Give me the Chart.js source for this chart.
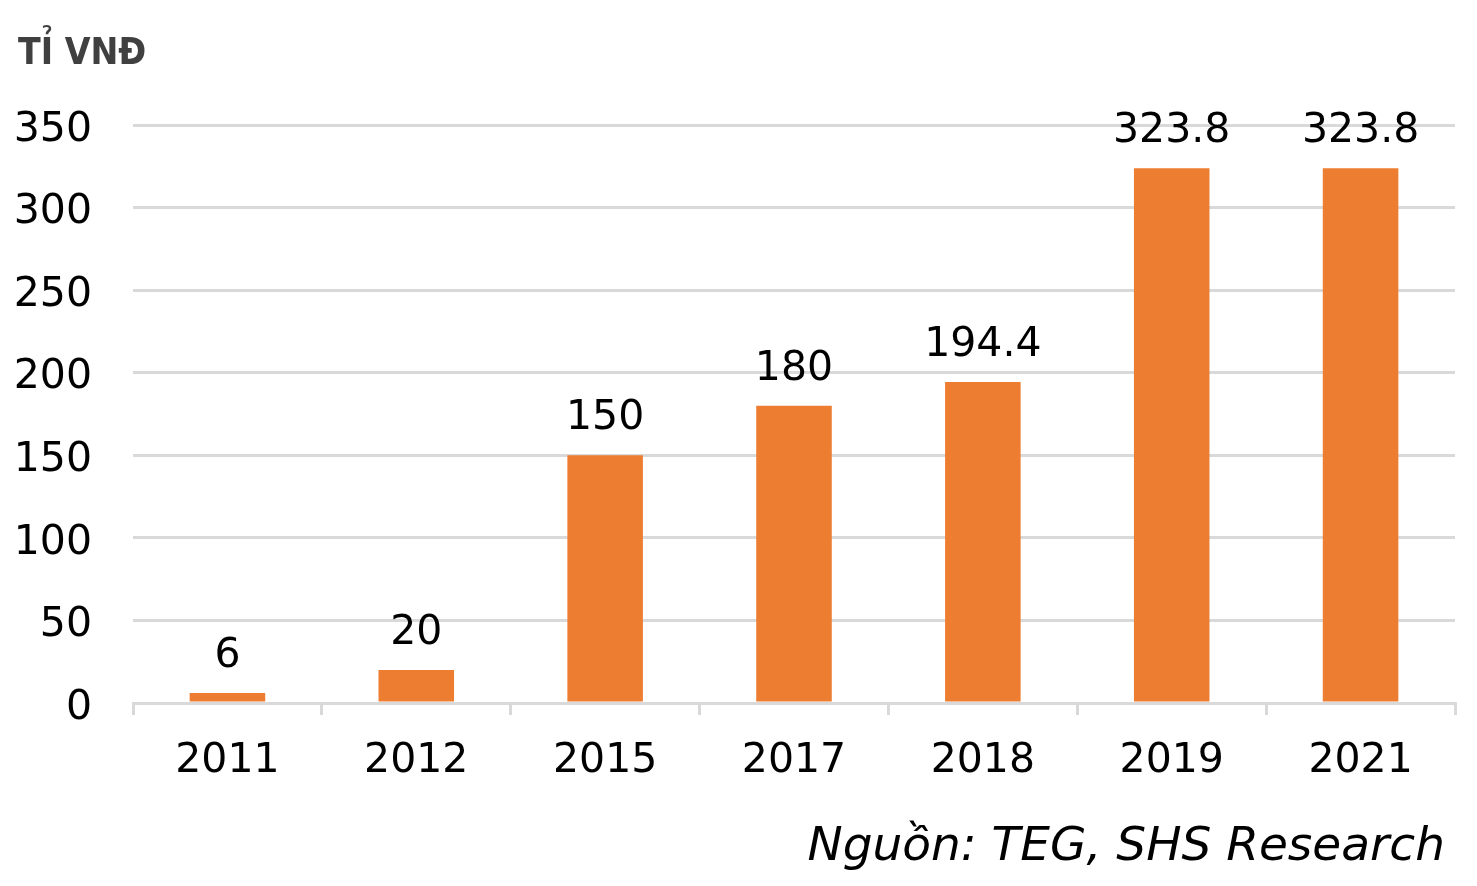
<!DOCTYPE html>
<html>
<head>
<meta charset="utf-8">
<script src="https://cdn.jsdelivr.net/npm/chart.js@4"></script>
<style>
  html, body { margin: 0; padding: 0; background: #fff; }
  #wrap { position: relative; width: 1477px; height: 886px; }
</style>
</head>
<body>
<div id="wrap"><canvas id="chart"></canvas></div>
<script>
const years = ["2011", "2012", "2015", "2017", "2018", "2019", "2021"];
const values = [6, 20, 150, 180, 194.4, 323.8, 323.8];
const unitLabel = "TỈ VNĐ";
const sourceNote = "Nguồn: TEG, SHS Research";

const FONT = "'DejaVu Sans', Verdana, sans-serif";

// value labels above bars + title and source text
const labelsPlugin = {
    id: "labelsPlugin",
    afterDatasetsDraw(chart) {
        const ctx = chart.ctx;
        const meta = chart.getDatasetMeta(0);
        ctx.save();
        ctx.fillStyle = "#000";
        ctx.font = "41px " + FONT;
        ctx.textAlign = "center";
        ctx.textBaseline = "alphabetic";
        meta.data.forEach((bar, i) => {
            ctx.fillText(String(values[i]), bar.x, bar.y - 26);
        });

        ctx.fillStyle = "#404040";
        ctx.font = "bold 37px 'DejaVu Sans Condensed', " + FONT;
        ctx.textAlign = "left";
        ctx.fillText(unitLabel, 18, 64);

        ctx.fillStyle = "#000";
        ctx.font = "italic 47px " + FONT;
        ctx.textAlign = "right";
        ctx.fillText(sourceNote, 1445, 860);
        ctx.restore();
    }
};

new Chart(document.getElementById("chart"), {
    type: "bar",
    data: {
        labels: years,
        datasets: [{
            data: values,
            backgroundColor: "#ED7D31",
            barPercentage: 0.4,
            categoryPercentage: 1.0
        }]
    },
    options: {
        responsive: true,
        maintainAspectRatio: false,
        animation: false,
        layout: { padding: { top: 125, right: 22, bottom: 93, left: 0 } },
        plugins: {
            legend: { display: false },
            tooltip: { enabled: false }
        },
        scales: {
            x: {
                offset: true,
                grid: {
                    offset: true,
                    drawOnChartArea: false,
                    color: "#d9d9d9",
                    lineWidth: 3,
                    tickLength: 12
                },
                border: { color: "#d9d9d9", width: 3 },
                ticks: { color: "#000", font: { family: FONT, size: 41 }, padding: 22 },
                afterFit(scale) { scale.height = 90; }
            },
            y: {
                min: 0,
                max: 350,
                ticks: {
                    stepSize: 50,
                    color: "#000",
                    font: { family: FONT, size: 41 },
                    padding: 41,
                    labelOffset: 5
                },
                grid: { color: "#d9d9d9", lineWidth: 3, drawTicks: false },
                border: { display: false },
                afterFit(scale) { scale.width = 133; }
            }
        }
    },
    plugins: [labelsPlugin]
});
</script>
</body>
</html>
